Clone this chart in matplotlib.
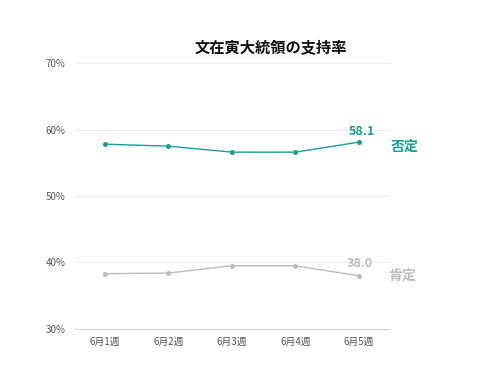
import matplotlib.pyplot as plt

plt.rcParams['font.family'] = ['Noto Sans CJK JP', 'DejaVu Sans']

weeks = ['6月1週', '6月2週', '6月3週', '6月4週', '6月5週']
hitei = [57.8, 57.5, 56.6, 56.6, 58.1]   # 否定
kotei = [38.3, 38.4, 39.5, 39.5, 38.0]   # 肯定
yticks = [30, 40, 50, 60, 70]

teal = '#17a096'
gray = '#bdbdbd'

fig = plt.figure(figsize=(5.01, 3.78), dpi=100)
ax = fig.add_axes([0.15, 0.13, 0.628, 0.703])

x = list(range(len(weeks)))
ax.plot(x, hitei, color=teal, lw=1.0, marker='o', ms=2.6)
ax.plot(x, kotei, color=gray, lw=1.0, marker='o', ms=2.6)

ax.set_xlim(-0.47, 4.49)
ax.set_ylim(30, 70)
ax.set_yticks(yticks)
ax.set_yticklabels([f'{v}%' for v in yticks], color='#555555', fontsize=7)
ax.set_xticks(x)
ax.set_xticklabels(weeks, color='#555555', fontsize=7)
ax.tick_params(length=0, pad=6)
ax.tick_params(axis='y', pad=21)
for lab in ax.get_yticklabels():
    lab.set_horizontalalignment('left')
ax.grid(axis='y', color='#eeeeee', lw=0.8)
ax.set_axisbelow(True)
for s in ['top', 'right', 'left']:
    ax.spines[s].set_visible(False)
ax.spines['bottom'].set_color('#d6d6d6')

# 最終値ラベル
ax.annotate(f'{hitei[-1]:.1f}', (x[-1], hitei[-1]), xytext=(2, 3), textcoords='offset points',
            ha='center', va='bottom', color=teal, fontsize=9, fontweight='bold')
ax.annotate(f'{kotei[-1]:.1f}', (x[-1], kotei[-1]), xytext=(1, 4), textcoords='offset points',
            ha='center', va='bottom', color=gray, fontsize=9, fontweight='bold')
ax.annotate('否定', (x[-1], hitei[-1]), xytext=(23, -3), textcoords='offset points',
            ha='left', va='center', color=teal, fontsize=10, fontweight='bold', annotation_clip=False)
ax.annotate('肯定', (x[-1], kotei[-1]), xytext=(21, 0), textcoords='offset points',
            ha='left', va='center', color=gray, fontsize=10, fontweight='bold', annotation_clip=False)

fig.text(0.54, 0.875, '文在寅大統領の支持率', ha='center', va='center',
         fontsize=11, fontweight='bold', color='#111111')

fig.savefig('out.png', dpi=100, facecolor='white')
